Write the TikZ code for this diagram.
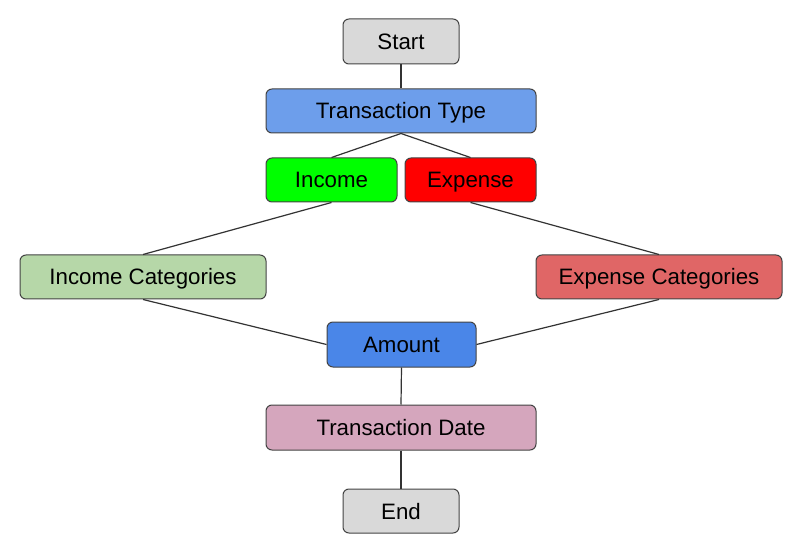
\documentclass[tikz,border=0pt]{standalone}
\usepackage{fontspec}
\setmainfont{Liberation Sans}
\definecolor{cgray}{HTML}{D9D9D9}
\definecolor{ctt}{HTML}{6D9EEB}
\definecolor{cinc}{HTML}{00FF00}
\definecolor{cexp}{HTML}{FF0000}
\definecolor{cinccat}{HTML}{B6D7A8}
\definecolor{cexpcat}{HTML}{E06666}
\definecolor{camt}{HTML}{4A86E8}
\definecolor{cdate}{HTML}{D5A6BD}
\definecolor{cborder}{HTML}{434343}
\definecolor{cline}{HTML}{333333}
\begin{document}
\begin{tikzpicture}[x=1pt,y=-1pt,
  box/.style={draw=cborder,line width=1pt,rounded corners=6pt,inner sep=0pt,
    font=\fontsize{22.3}{24}\selectfont,text=black,text height=16pt,text depth=0pt},
  link/.style={draw=cline,line width=1.2pt}]
\useasboundingbox (0,0) rectangle (801,548);
\node[box,fill=cgray,minimum width=116pt,minimum height=45pt] (start) at (401,41.5) {Start};
\node[box,fill=ctt,minimum width=270pt,minimum height=44pt] (tt) at (401,111) {Transaction Type};
\node[box,fill=cinc,minimum width=131pt,minimum height=44pt] (inc) at (331.5,180) {Income};
\node[box,fill=cexp,minimum width=131pt,minimum height=44pt] (exp) at (470.5,180) {Expense};
\node[box,fill=cinccat,minimum width=246pt,minimum height=44pt] (inccat) at (143,277) {Income Categories};
\node[box,fill=cexpcat,minimum width=246pt,minimum height=44pt] (expcat) at (659,277) {Expense Categories};
\node[box,fill=camt,minimum width=149pt,minimum height=45pt] (amt) at (401.5,344.5) {Amount};
\node[box,fill=cdate,minimum width=270pt,minimum height=45pt] (date) at (401,427.5) {Transaction Date};
\node[box,fill=cgray,minimum width=116pt,minimum height=44pt] (end) at (401,511) {End};
\draw[link] (start.south) -- (tt.north);
\draw[link] (tt.south) -- (inc.north);
\draw[link] (tt.south) -- (exp.north);
\draw[link] (inc.south) -- (inccat.north);
\draw[link] (exp.south) -- (expcat.north);
\draw[link] (inccat.south) -- (amt.west);
\draw[link] (expcat.south) -- (amt.east);
\draw[link] (amt.south) -- (date.north);
\draw[link] (date.south) -- (end.north);
\end{tikzpicture}
\end{document}
